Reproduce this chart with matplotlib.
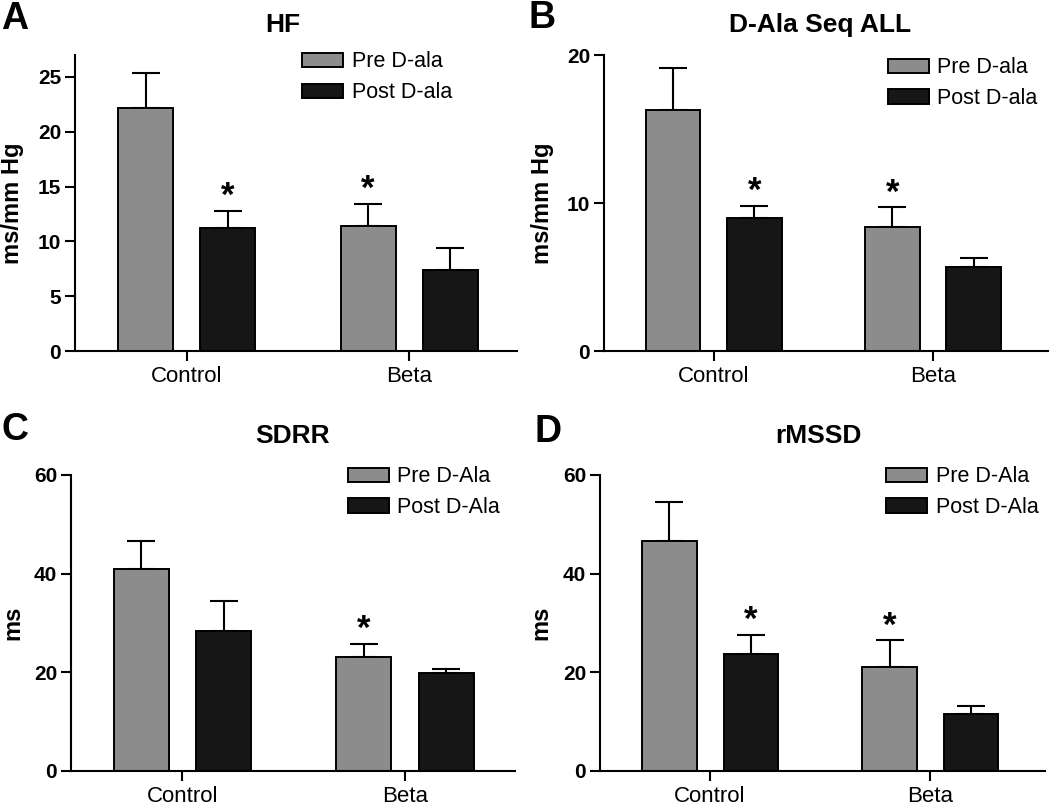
import numpy as np
import matplotlib
matplotlib.use("Agg")
import matplotlib.pyplot as plt

plt.rcParams['font.family'] = ['Liberation Sans', 'DejaVu Sans']

groups = ["Control", "Beta"]

# HF
hf_pre = [22.2, 11.4]
hf_pre_err = [3.2, 2.0]
hf_post = [11.2, 7.4]
hf_post_err = [1.6, 2.0]
hf_star_pre = [False, True]
hf_star_post = [True, False]

# D-Ala Seq ALL
seq_pre = [16.3, 8.4]
seq_pre_err = [2.8, 1.3]
seq_post = [9.0, 5.7]
seq_post_err = [0.8, 0.6]
seq_star_pre = [False, True]
seq_star_post = [True, False]

# SDRR
sdrr_pre = [41.0, 23.1]
sdrr_pre_err = [5.7, 2.7]
sdrr_post = [28.4, 19.8]
sdrr_post_err = [6.0, 0.9]
sdrr_star_pre = [False, True]
sdrr_star_post = [False, False]

# rMSSD
rmssd_pre = [46.7, 21.0]
rmssd_pre_err = [7.8, 5.5]
rmssd_post = [23.7, 11.5]
rmssd_post_err = [3.9, 1.6]
rmssd_star_pre = [False, True]
rmssd_star_post = [True, False]

GRAY = "#8c8c8c"
BLACK = "#161616"

fig = plt.figure(figsize=(10.5, 8.02), dpi=100)


def panel(rect, letter, letter_xy, title, title_x, title_pad, ylabel, ylabel_x,
          pre, pre_err, post, post_err, star_pre, star_post,
          ylim, yticks, labels, leg_xy, xlim):
    ax = fig.add_axes(rect)
    x = np.arange(len(groups))
    off, w = 0.185, 0.247
    ax.bar(x - off, pre, w, color=GRAY, edgecolor="black", linewidth=1.4,
           label=labels[0], zorder=2)
    ax.bar(x + off, post, w, color=BLACK, edgecolor="black", linewidth=1.4,
           label=labels[1], zorder=2)
    for xs, vals, errs in [(x - off, pre, pre_err), (x + off, post, post_err)]:
        ax.errorbar(xs, vals, yerr=[np.zeros(len(errs)), errs], fmt="none",
                    ecolor="black", elinewidth=1.5, capsize=10, capthick=1.5, zorder=1)
    # significance marks
    for xs, vals, errs, stars in [(x - off, pre, pre_err, star_pre),
                                  (x + off, post, post_err, star_post)]:
        for xi, v, e, s in zip(xs, vals, errs, stars):
            if s:
                ax.annotate("*", xy=(xi, v + e), xytext=(0, 3.5), textcoords="offset points",
                            ha="center", va="baseline", fontsize=25, fontweight="bold")
    ax.set_xlim(*xlim)
    ax.set_ylim(*ylim)
    ax.set_yticks(yticks)
    ax.set_xticks(x)
    ax.set_xticklabels(groups, fontsize=16)
    for t in ax.get_yticklabels():
        t.set_fontsize(15)
        t.set_fontweight("bold")
    ax.tick_params(axis="both", direction="out", length=7, width=1.5)
    ax.tick_params(axis="x", pad=3.5)
    ax.tick_params(axis="y", pad=3)
    for s in ["top", "right"]:
        ax.spines[s].set_visible(False)
    for s in ["left", "bottom"]:
        ax.spines[s].set_linewidth(1.5)
    ax.set_ylabel(ylabel, fontsize=17, fontweight="bold")
    ax.yaxis.set_label_coords(ylabel_x, 0.5)
    ax.set_title(title, fontsize=19, fontweight="bold", pad=title_pad, x=title_x)
    ax.legend(loc="upper left", bbox_to_anchor=leg_xy, frameon=False, fontsize=15.5,
              borderpad=0, borderaxespad=0, handlelength=1.9, handleheight=0.63,
              handletextpad=0.4, labelspacing=0.45)
    fig.text(letter_xy[0], letter_xy[1], letter, fontsize=27, fontweight="bold",
             ha="left", va="baseline")
    return ax


panel([0.0714, 0.5623, 0.421, 0.3691], "A", (0.001, 0.9638), "HF", 0.47, 16.5,
      "ms/mm Hg", -0.115, hf_pre, hf_pre_err, hf_post, hf_post_err,
      hf_star_pre, hf_star_post, (0, 27), [0, 5, 10, 15, 20, 25],
      ["Pre D-ala", "Post D-ala"], (0.514, 1.012), (-0.502, 1.484))

panel([0.5752, 0.5623, 0.4229, 0.3691], "B", (0.503, 0.965), "D-Ala Seq ALL", 0.486, 16.5,
      "ms/mm Hg", -0.113, seq_pre, seq_pre_err, seq_post, seq_post_err,
      seq_star_pre, seq_star_post, (0, 20), [0, 10, 20],
      ["Pre D-ala", "Post D-ala"], (0.639, 0.992), (-0.502, 1.525))

panel([0.0676, 0.0387, 0.4229, 0.3691], "C", (0.001, 0.4514), "SDRR", 0.5, 23,
      "ms", -0.106, sdrr_pre, sdrr_pre_err, sdrr_post, sdrr_post_err,
      sdrr_star_pre, sdrr_star_post, (0, 60), [0, 20, 40, 60],
      ["Pre D-Ala", "Post D-Ala"], (0.623, 1.029), (-0.5, 1.494))

panel([0.5714, 0.0387, 0.4238, 0.3691], "D", (0.5095, 0.4493), "rMSSD", 0.49, 23,
      "ms", -0.106, rmssd_pre, rmssd_pre_err, rmssd_post, rmssd_post_err,
      rmssd_star_pre, rmssd_star_post, (0, 60), [0, 20, 40, 60],
      ["Pre D-Ala", "Post D-Ala"], (0.643, 1.029), (-0.5, 1.52))

fig.savefig("out.png", dpi=100)
